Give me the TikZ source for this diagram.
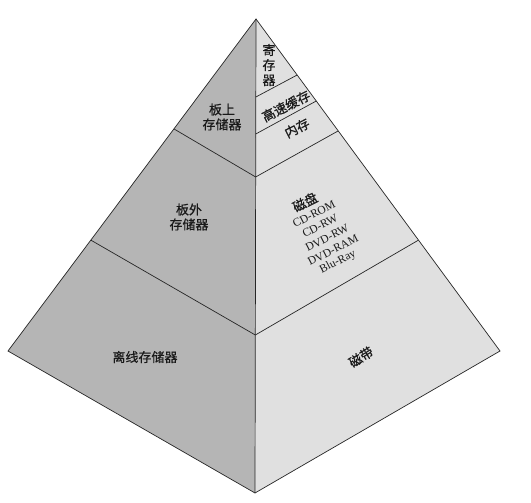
\documentclass[tikz,border=0pt]{standalone}
\usepackage{fontspec}
\setmainfont{Liberation Serif}
\newfontfamily\cjk[FakeBold=0.6]{Noto Sans CJK SC}
\usetikzlibrary{calc}
\definecolor{leftgray}{gray}{0.71}
\definecolor{rightgray}{gray}{0.88}
\begin{document}
\begin{tikzpicture}[x=1pt,y=1pt,
  edge/.style={draw=black!85, line width=0.7pt},
  lbl/.style={font=\cjk\fontsize{13}{15}\selectfont, inner sep=0pt, align=center, text=black!90},
  lat/.style={font=\fontsize{11.5}{13}\selectfont, inner sep=0pt, text=black!90, rotate=27}]
\useasboundingbox (0,0) rectangle (531,-503);
\fill[white] (0,0) rectangle (531,-503);
\coordinate (A) at (256,-19);
\coordinate (B) at (255,-493);
\coordinate (L) at (8,-351);
\coordinate (R) at (500,-351);
% faces
\fill[leftgray] (A) -- (L) -- (B) -- cycle;
\fill[rightgray] (A) -- (R) -- (B) -- cycle;
% boundary points
\coordinate (l1) at ($(A)!0.331!(L)$);
\coordinate (l2) at ($(A)!0.666!(L)$);
\coordinate (m0) at ($(A)!0.1646!(B)$);
\coordinate (m1) at ($(A)!0.2426!(B)$);
\coordinate (m2) at ($(A)!0.3333!(B)$);
\coordinate (m3) at ($(A)!0.6667!(B)$);
\coordinate (r0) at ($(A)!0.1687!(R)$);
\coordinate (r1) at ($(A)!0.247!(R)$);
\coordinate (r2) at ($(A)!0.337!(R)$);
\coordinate (r3) at ($(A)!0.666!(R)$);
% outline
\draw[edge] (A) -- (L) -- (B) -- (R) -- cycle;
\draw[edge] (A) -- (B);
\draw[edge] (l1) -- (m2) -- (r2);
\draw[edge] (l2) -- (m3) -- (r3);
\draw[edge] (m0) -- (r0);
\draw[edge] (m1) -- (r1);
% labels
\node[lbl] (reg) at (269,-65) {寄\\存\\器};
\node[lbl, rotate=27] (cache) at (286,-106) {高速缓存};
\node[lbl, rotate=27] (mem) at (297,-128) {内存};
\node[lbl] (onb) at (222,-117) {板上\\存储器};
\node[lbl] (offb) at (189,-217) {板外\\存储器};
\node[lbl, rotate=27] (disk) at (305,-202) {磁盘};
\node[lat] (cdrom) at (314,-214) {CD-ROM};
\node[lat] (cdrw) at (320,-226) {CD-RW};
\node[lat] (dvdrw) at (327,-238) {DVD-RW};
\node[lat] (dvdram) at (333,-250) {DVD-RAM};
\node[lat] (bluray) at (338,-262) {Blu-Ray};
\node[lbl] (offl) at (145,-357) {离线存储器};
\node[lbl, rotate=32] (tape) at (361,-357) {磁带};
\end{tikzpicture}
\end{document}
